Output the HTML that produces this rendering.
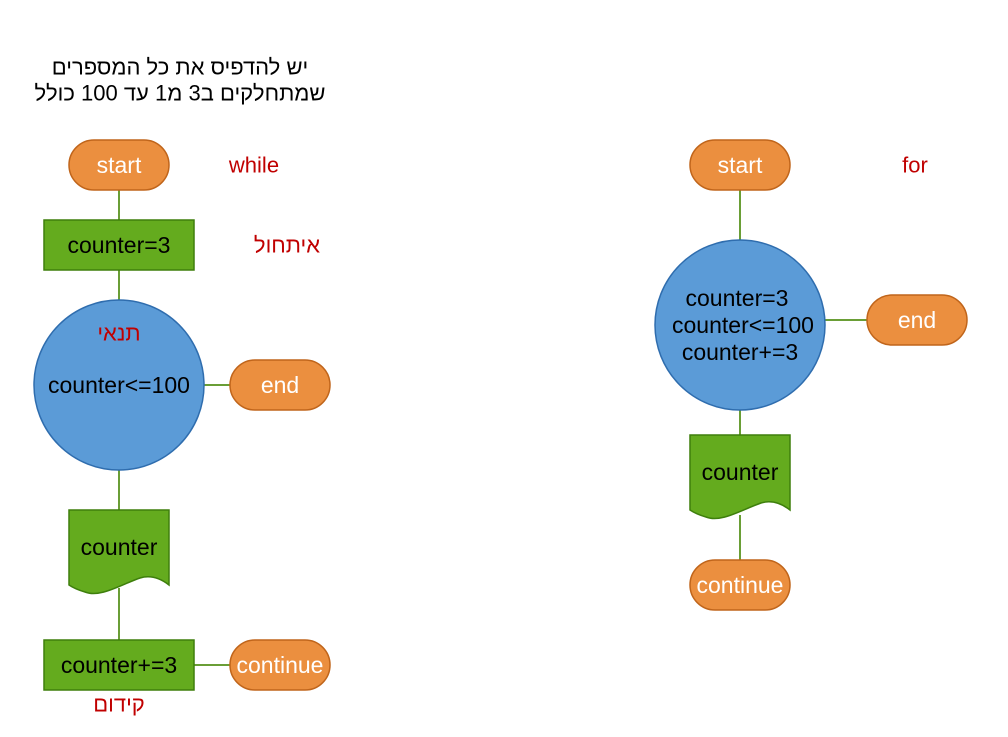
<!DOCTYPE html>
<html><head><meta charset="utf-8"><style>
html,body{margin:0;padding:0;background:#fff}
svg{display:block}
text{font-family:"Liberation Sans","Noto Sans CJK SC",sans-serif;font-size:23px;text-anchor:middle;dominant-baseline:central}
.t{font-size:22px}
.o{fill:#EB8F3F;stroke:#C0651B;stroke-width:1.5}
.g{fill:#64AB1E;stroke:#3E7F0C;stroke-width:1.5}
.b{fill:#5B9BD7;stroke:#2F6DAE;stroke-width:1.5}
.l{stroke:#6A9E36;stroke-width:2;fill:none}
.w{fill:#fff}.r{fill:#C00000}.k{fill:#000}
</style></head><body>
<svg width="1008" height="737" viewBox="0 0 1008 737">
<text x="180" y="67" class="k t">יש להדפיס את כל המספרים</text>
<text x="180" y="93" class="k t">שמתחלקים ב3 מ1 עד 100 כולל</text>
<g>
<path class="l" d="M119,190V220M119,270V300M119,470V510M119,588V640M204,385H230M194,665H230"/>
<g><rect class="o" x="69" y="140" width="100" height="50" rx="25"/><text x="119" y="165" class="w">start</text></g>
<text x="254" y="165" class="r t">while</text>
<g><rect class="g" x="44" y="220" width="150" height="50"/><text x="119" y="245" class="k">counter=3</text></g>
<text x="287" y="245" class="r t">איתחול</text>
<g><circle class="b" cx="119" cy="385" r="85"/><text x="119" y="333" class="r t">תנאי</text><text x="119" y="385" class="k">counter&lt;=100</text></g>
<g><rect class="o" x="230" y="360" width="100" height="50" rx="25"/><text x="280" y="385" class="w">end</text></g>
<g><path class="g" d="M69,510H169V585C160,578 150,575 140,578C120,585 100,598 85,592C78,590 72,587 69,585Z"/><text x="119" y="547" class="k">counter</text></g>
<g><rect class="g" x="44" y="640" width="150" height="50"/><text x="119" y="665" class="k">counter+=3</text></g>
<text x="119" y="704" class="r t">קידום</text>
<g><rect class="o" x="230" y="640" width="100" height="50" rx="25"/><text x="280" y="665" class="w">continue</text></g>
</g>
<g>
<path class="l" d="M740,190V240M740,410V435M740,515V560M825,320H867"/>
<g><rect class="o" x="690" y="140" width="100" height="50" rx="25"/><text x="740" y="165" class="w">start</text></g>
<text x="915" y="165" class="r t">for</text>
<g><circle class="b" cx="740" cy="325" r="85"/><text x="737" y="298" class="k">counter=3</text><text x="743" y="325" class="k">counter&lt;=100</text><text x="740" y="352" class="k">counter+=3</text></g>
<g><rect class="o" x="867" y="295" width="100" height="50" rx="25"/><text x="917" y="320" class="w">end</text></g>
<g><path class="g" d="M690,435H790V510C781,503 771,500 761,503C741,510 721,523 706,517C699,515 693,512 690,510Z"/><text x="740" y="472" class="k">counter</text></g>
<g><rect class="o" x="690" y="560" width="100" height="50" rx="25"/><text x="740" y="585" class="w">continue</text></g>
</g>
</svg>
</body></html>
